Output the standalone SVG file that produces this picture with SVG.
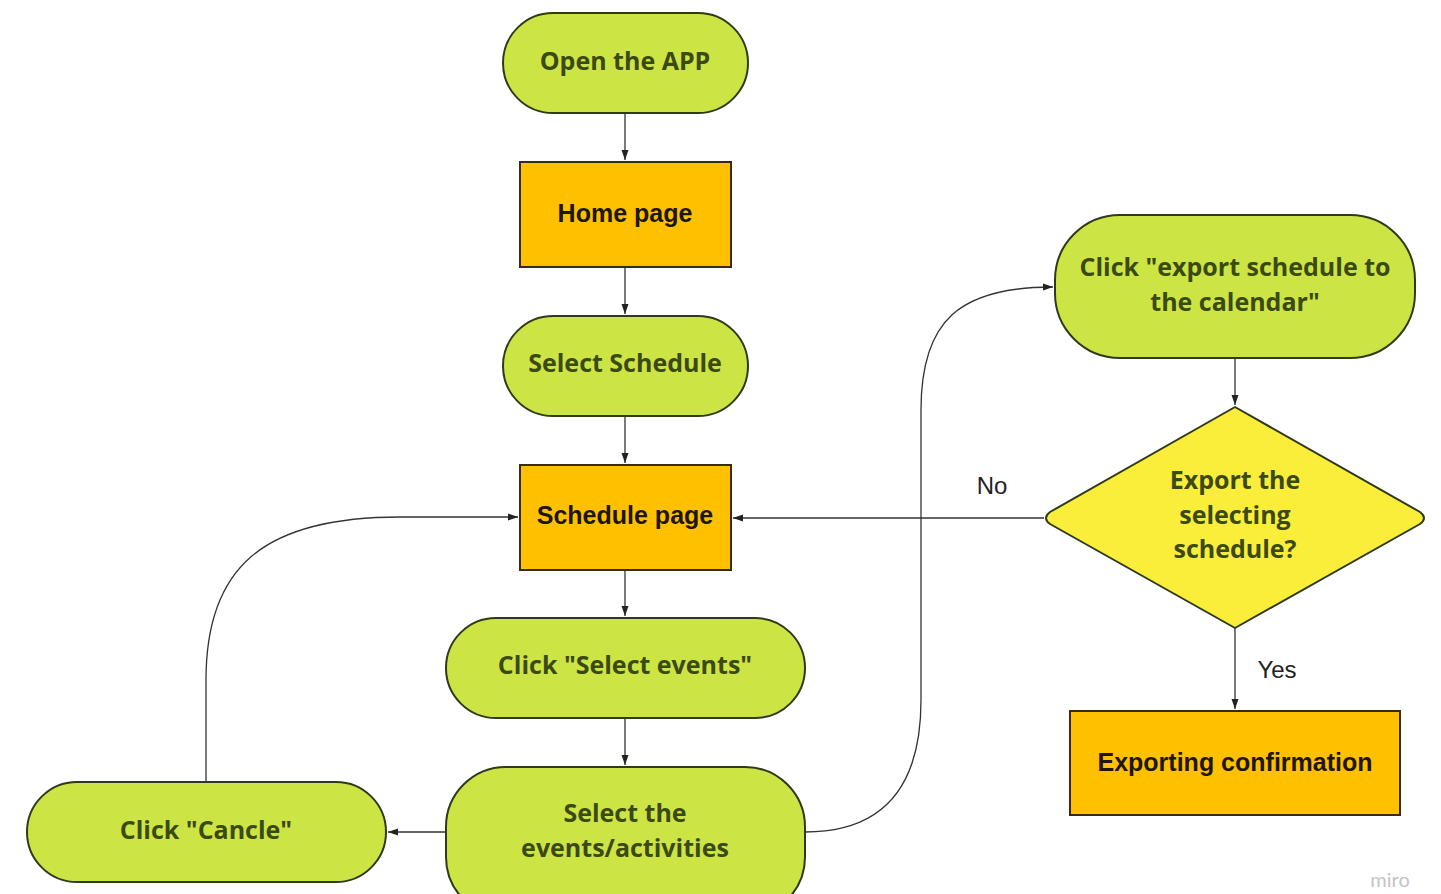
<svg xmlns="http://www.w3.org/2000/svg" width="1441" height="894" viewBox="0 0 1441 894">
<defs>
<style>
.term{fill:#cde544;stroke:#2f3a1a;stroke-width:2}
.proc{fill:#ffc000;stroke:#3a2a10;stroke-width:2}
.dec{fill:#fbee3a;stroke:#2f3a1a;stroke-width:2;stroke-linejoin:round}
.tg{font-family:"Open Sans","DejaVu Sans",sans-serif;font-weight:bold;font-size:25px;fill:#3a4a12;text-anchor:middle}
.tp{font-family:"Liberation Sans",Arial,sans-serif;font-weight:bold;font-size:25px;fill:#1e1608;text-anchor:middle}
.lbl{font-family:"Liberation Sans",Arial,sans-serif;font-size:24px;fill:#222;text-anchor:middle}
.c{fill:none;stroke:#333;stroke-width:1.3}
</style>
<marker id="ah" viewBox="0 0 10 10" refX="10" refY="5" markerWidth="10" markerHeight="10" markerUnits="userSpaceOnUse" orient="auto">
<path d="M0,1.5 L10,5 L0,8.5 Z" fill="#222"/>
</marker>
</defs>
<rect width="1441" height="894" fill="#fff"/>
<g id="connectors">
<path class="c" d="M625,113 L625,160" marker-end="url(#ah)"/>
<path class="c" d="M625,267 L625,314" marker-end="url(#ah)"/>
<path class="c" d="M625,416 L625,463" marker-end="url(#ah)"/>
<path class="c" d="M625,570 L625,616" marker-end="url(#ah)"/>
<path class="c" d="M625,718 L625,765" marker-end="url(#ah)"/>
<path class="c" d="M446,832 L388,832" marker-end="url(#ah)"/>
<path class="c" d="M206,782 L206,680 C206,570 260,517 400,517 L518,517" marker-end="url(#ah)"/>
<path class="c" d="M805,832 C880,832 921,790 921,700 L921,410 C921,320 960,287 1053,287" marker-end="url(#ah)"/>
<path class="c" d="M1235,358 L1235,405" marker-end="url(#ah)"/>
<path class="c" d="M1044,518 L733,518" marker-end="url(#ah)"/>
<path class="c" d="M1235,628 L1235,709" marker-end="url(#ah)"/>
<text class="lbl" x="992" y="494">No</text>
<text class="lbl" x="1277" y="678">Yes</text>
</g>
<g id="n-open"><rect class="term" x="503" y="13" width="245" height="100" rx="50"/><text class="tg" x="625" y="70">Open the APP</text></g>
<g id="n-home"><rect class="proc" x="520" y="162" width="211" height="105"/><text class="tp" x="625" y="222">Home page</text></g>
<g id="n-selsched"><rect class="term" x="503" y="316" width="245" height="100" rx="50"/><text class="tg" x="625" y="372">Select Schedule</text></g>
<g id="n-schedpage"><rect class="proc" x="520" y="465" width="211" height="105"/><text class="tp" x="625" y="524">Schedule page</text></g>
<g id="n-clicksel"><rect class="term" x="446" y="618" width="359" height="100" rx="50"/><text class="tg" x="625" y="674">Click "Select events"</text></g>
<g id="n-selevents"><rect class="term" x="446" y="767" width="359" height="150" rx="60"/><text class="tg" x="625" y="822">Select the</text><text class="tg" x="625" y="857">events/activities</text></g>
<g id="n-cancel"><rect class="term" x="27" y="782" width="359" height="100" rx="50"/><text class="tg" x="206" y="839">Click "Cancle"</text></g>
<g id="n-export"><rect class="term" x="1055" y="215" width="360" height="143" rx="65"/><text class="tg" x="1235" y="276">Click "export schedule to</text><text class="tg" x="1235" y="311">the calendar"</text></g>
<g id="n-decision"><path class="dec" d="M1235,407 L1420,512 Q1428,518 1420,524 L1235,628 L1050,524 Q1042,518 1050,512 Z"/><text class="tg" x="1235" y="489">Export the</text><text class="tg" x="1235" y="524">selecting</text><text class="tg" x="1235" y="558">schedule?</text></g>
<g id="n-confirm"><rect class="proc" x="1070" y="711" width="330" height="104"/><text class="tp" x="1235" y="771">Exporting confirmation</text></g>
<text x="1390" y="887" font-family="Lato,'Liberation Sans',sans-serif" font-size="20" fill="#c4c4c4" text-anchor="middle">miro</text>
</svg>
